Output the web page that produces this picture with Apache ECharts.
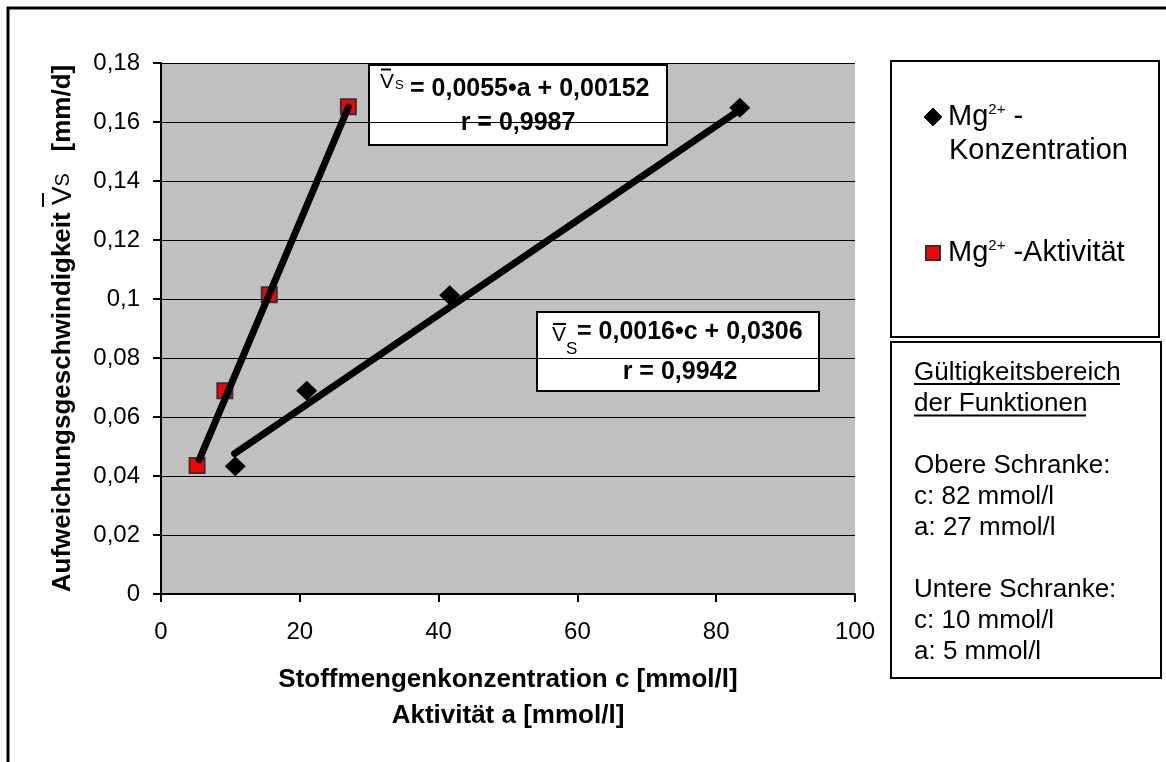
<!DOCTYPE html>
<html>
<head>
<meta charset="utf-8">
<script src="https://cdn.jsdelivr.net/npm/echarts@6/dist/echarts.min.js"></script>
<style>
    html, body { margin: 0; padding: 0; background: #fff; }
    #chart { width: 1166px; height: 762px; }
</style>
</head>
<body>
<div id="chart"></div>
<script>
const concentration = [10.7, 21.0, 41.6, 83.4];
const activity = [5.2, 9.2, 15.6, 27.0];
const velocityConc = [0.0433, 0.0689, 0.1013, 0.1648];
const velocityAct = [0.0436, 0.0689, 0.1014, 0.1652];

// drawn trend lines (end points)
const concFitX = [10.6, 82.7];
const concFitY = [0.0476, 0.1630];
const actFitX = [5.5, 27.0];
const actFitY = [0.0455, 0.1650];

const xRange = [0, 100, 20];
const yRange = [0, 0.18, 0.02];

const seriesNames = ["Mg2+ - Konzentration", "Mg2+ -Aktivität"];
const actEquation = ["= 0,0055•a + 0,00152", "r = 0,9987"];
const concEquation = ["= 0,0016•c + 0,0306", "r = 0,9942"];
const validityLines = [
    "Gültigkeitsbereich",
    "der Funktionen",
    "",
    "Obere Schranke:",
    "c: 82 mmol/l",
    "a: 27 mmol/l",
    "",
    "Untere Schranke:",
    "c: 10 mmol/l",
    "a: 5 mmol/l"
];

const FONT = "'Liberation Sans', Arial, sans-serif";

function pairs(xs, ys) {
    return xs.map((x, i) => [x, ys[i]]);
}

function text(x, y, str, size, weight, align) {
    return {
        type: "text",
        x: x,
        y: y,
        style: {
            text: str,
            fontFamily: FONT,
            fontSize: size,
            fontWeight: weight || "normal",
            fill: "#000",
            align: align || "left",
            verticalAlign: "middle"
        }
    };
}

function line(x1, y1, x2, y2, w) {
    return {
        type: "line",
        shape: { x1, y1, x2, y2 },
        style: { stroke: "#000", lineWidth: w || 2 }
    };
}

function box(x, y, w, h) {
    return {
        type: "rect",
        shape: { x, y, width: w, height: h },
        style: { fill: "#fff", stroke: "#000", lineWidth: 2 }
    };
}

const chart = echarts.init(document.getElementById("chart"), null, { renderer: "canvas" });

const supRich = {
    n: { fontFamily: FONT, fontSize: 29, fill: "#000" },
    sup: { fontFamily: FONT, fontSize: 15, fill: "#000", verticalAlign: "top" }
};

const graphics = [
    {
        type: "rect",
        z: -10,
        shape: { x: 8, y: 8, width: 1400, height: 1000 },
        style: { fill: "none", stroke: "#000", lineWidth: 3 }
    },
    // equation for activity
    box(369, 65, 298, 80),
    line(381, 69.5, 391, 69.5, 2),
    text(380, 82, "V", 21),
    text(395, 85, "S", 13),
    text(410, 89, actEquation[0], 25, "bold"),
    text(518, 123, actEquation[1], 25, "bold", "center"),
    // equation for concentration
    box(537, 312, 282, 79),
    line(553, 324, 566, 324, 2),
    text(552, 335, "V", 21),
    text(566, 349, "S", 17),
    text(577, 332, concEquation[0], 25, "bold"),
    text(680, 372, concEquation[1], 25, "bold", "center"),
    // legend
    box(891, 61, 268, 276),
    {
        type: "polygon",
        shape: { points: [[933, 108], [942, 117], [933, 126], [924, 117]] },
        style: { fill: "#000", stroke: "#000", lineWidth: 1 }
    },
    {
        type: "text",
        x: 948,
        y: 117,
        style: { text: "{n|Mg}{sup|2+}{n| -}", verticalAlign: "middle", rich: supRich }
    },
    text(949, 151, "Konzentration", 29),
    {
        type: "rect",
        shape: { x: 926, y: 246, width: 14, height: 14 },
        style: { fill: "#ff0000", stroke: "#333", lineWidth: 2 }
    },
    {
        type: "text",
        x: 948,
        y: 253,
        style: { text: "{n|Mg}{sup|2+}{n| -Aktivität}", verticalAlign: "middle", rich: supRich }
    },
    // validity range
    box(891, 342, 270, 336),
    line(914, 384, 1120, 384, 2),
    line(914, 415.5, 1086, 415.5, 2)
];

validityLines.forEach((str, i) => {
    if (str) {
        graphics.push(text(914, 373 + i * 31, str, 26));
    }
});

// y axis name overline above V
graphics.push(line(43, 193, 43, 207, 2));

const option = {
    backgroundColor: "#fff",
    animation: false,
    textStyle: { fontFamily: FONT },
    grid: {
        left: 161,
        right: 311,
        top: 63,
        bottom: 168,
        show: true,
        backgroundColor: "#c0c0c0",
        borderWidth: 0
    },
    xAxis: {
        type: "value",
        min: xRange[0],
        max: xRange[1],
        interval: xRange[2],
        name: "Stoffmengenkonzentration c [mmol/l]\nAktivität a [mmol/l]",
        nameLocation: "middle",
        nameGap: 68,
        nameTextStyle: {
            fontFamily: FONT,
            fontSize: 26,
            fontWeight: "bold",
            color: "#000",
            lineHeight: 36
        },
        axisLine: { onZero: false, lineStyle: { color: "#000", width: 2 } },
        axisTick: { show: true, length: 8, lineStyle: { color: "#000", width: 2 } },
        axisLabel: { color: "#000", fontSize: 24, fontFamily: FONT, margin: 26 },
        splitLine: { show: false }
    },
    yAxis: {
        type: "value",
        min: yRange[0],
        max: yRange[1],
        interval: yRange[2],
        name: "{b|Aufweichungsgeschwindigkeit }{v|V}{s|S}{b|   [mm/d]}",
        nameLocation: "middle",
        nameRotate: 90,
        nameGap: 84,
        nameTextStyle: {
            color: "#000",
            rich: {
                b: { fontFamily: FONT, fontSize: 26, fontWeight: "bold", color: "#000" },
                v: { fontFamily: FONT, fontSize: 28, color: "#000" },
                s: { fontFamily: FONT, fontSize: 20, color: "#000" }
            }
        },
        axisLine: { show: true, lineStyle: { color: "#000", width: 2 } },
        axisTick: { show: true, length: 8, lineStyle: { color: "#000", width: 2 } },
        axisLabel: {
            color: "#000",
            fontSize: 24,
            fontFamily: FONT,
            margin: 21,
            formatter: v => String(+v.toFixed(2)).replace(".", ",")
        },
        splitLine: { show: true, lineStyle: { color: "#000", width: 1 } }
    },
    graphic: graphics,
    series: [
        {
            name: seriesNames[0],
            type: "scatter",
            symbol: "diamond",
            symbolSize: [21, 20],
            data: pairs(concentration, velocityConc),
            itemStyle: { color: "#000", opacity: 1 },
            z: 2
        },
        {
            name: seriesNames[1],
            type: "scatter",
            symbol: "rect",
            symbolSize: 15,
            data: pairs(activity, velocityAct),
            itemStyle: { color: "#ff0000", borderColor: "#333", borderWidth: 2, opacity: 1 },
            z: 2
        },
        {
            type: "line",
            data: pairs(actFitX, actFitY),
            showSymbol: false,
            silent: true,
            lineStyle: { color: "#000", width: 7, cap: "round" },
            z: 3
        },
        {
            type: "line",
            data: pairs(concFitX, concFitY),
            showSymbol: false,
            silent: true,
            lineStyle: { color: "#000", width: 7, cap: "round" },
            z: 3
        }
    ]
};

chart.setOption(option);
</script>
</body>
</html>
